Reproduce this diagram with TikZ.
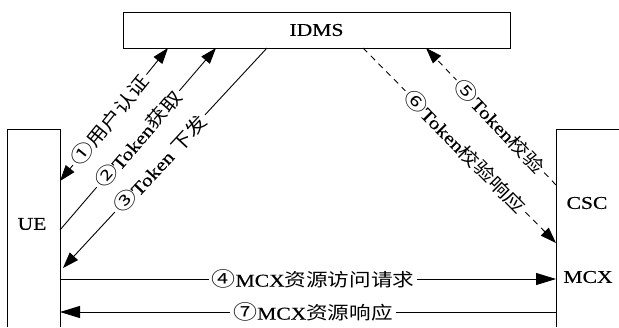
\documentclass[tikz,border=0pt]{standalone}
\usepackage{fontspec}
\setmainfont{Liberation Serif}[FakeStretch=1.2, FakeBold=0.4]
\newfontfamily\cjk{Noto Sans CJK SC}[FakeStretch=1.2]
\newcommand\zh[1]{{\cjk #1}}
\newcommand\cnum[1]{{\cjk\fontsize{20}{20}\selectfont #1}}
\usetikzlibrary{arrows.meta}
\tikzset{
  boxline/.style={draw, line width=1pt},
  dtip/.tip={Triangle[length=16pt,width=11pt]},
  htip/.tip={Triangle[length=20pt,width=12pt]},
  darr/.style={line width=0.9pt, -dtip},
  harr/.style={line width=0.9pt, -htip},
  dsh/.style={dash pattern=on 6pt off 5pt},
  lbl/.style={fill=white, inner sep=3pt, sloped},
}
\begin{document}
\begin{tikzpicture}[x=1pt, y=-1pt, font=\fontsize{18}{20}\selectfont]
\useasboundingbox (0,0) rectangle (619,327);
% boxes
\node[boxline, minimum width=387pt, minimum height=36pt, inner sep=0pt] (idms) at (316.5,30) {IDMS};
\draw[boxline] (7,327) -- (7,129) -- (60,129) -- (60,327);
\draw[boxline] (619,129) -- (556,129) -- (556,327);
\node (ue) at (32,224) {UE};
\node (csc) at (587,203) {CSC};
\node (mcx) at (588,277) {MCX};
% anchor points on box edges
\coordinate (i1) at (168,48);
\coordinate (i2) at (216,48);
\coordinate (i3) at (267,48);
\coordinate (i5) at (426,48);
\coordinate (i6) at (363,48);
\coordinate (u1) at (60,181);
\coordinate (u2) at (60,230);
\coordinate (u3) at (63,268);
\coordinate (u4) at (60,279);
\coordinate (u7) at (60,312);
\coordinate (c4) at (556,279);
\coordinate (c5) at (556,185);
\coordinate (c6) at (556,243);
\coordinate (c7) at (556,312);
% connectors
\draw[line width=0.9pt, dtip-dtip] (u1) -- node[lbl, pos=0.46] {\cnum{①}\zh{用户认证}} (i1);
\draw[darr] (u2) -- node[lbl, pos=0.50] {\cnum{②}Token\zh{获取}} (i2);
\draw[darr] (i3) -- node[lbl, pos=0.525] {\cnum{③}Token \zh{下发}} (u3);
\draw[harr] (u4) -- node[lbl, pos=0.51] {\cnum{④}MCX\zh{资源访问请求}} (c4);
\draw[darr, dsh] (c5) -- node[lbl, pos=0.43] {\cnum{⑤}Token\zh{校验}} (i5);
\draw[darr, dsh] (i6) -- node[lbl, pos=0.53] {\cnum{⑥}Token\zh{校验响应}} (c6);
\draw[harr] (c7) -- node[lbl, pos=0.49] {\cnum{⑦}MCX\zh{资源响应}} (u7);
\end{tikzpicture}
\end{document}
